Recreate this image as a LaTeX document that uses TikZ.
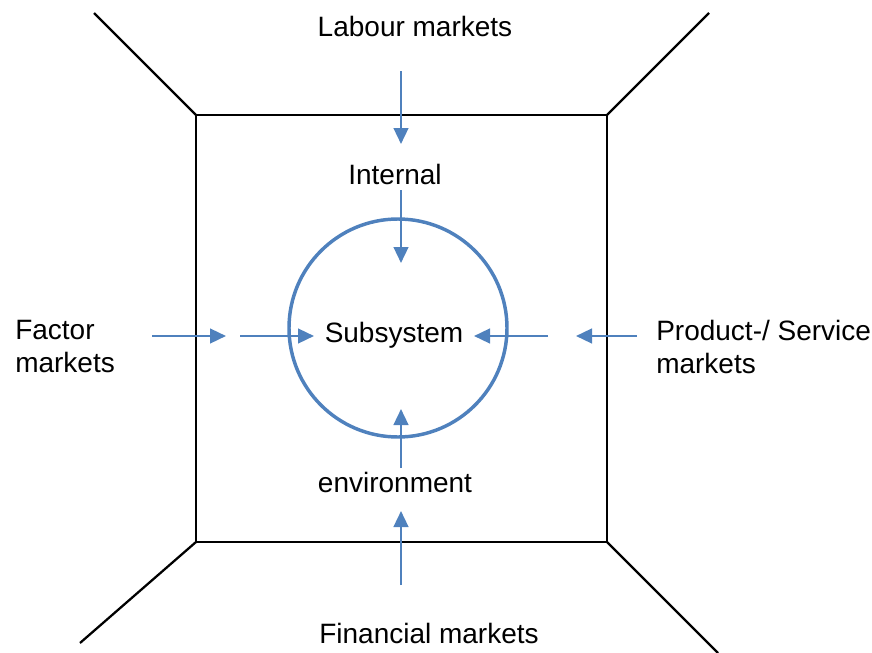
\documentclass[tikz,border=0pt]{standalone}
\usepackage{fontspec}
\setmainfont{Liberation Sans}
\usetikzlibrary{arrows.meta}
\definecolor{flowblue}{RGB}{79,129,189}
\begin{document}
\begin{tikzpicture}[x=0.75pt,y=-0.75pt,
  frame/.style={draw=black,line width=1.7pt},
  flow/.style={draw=flowblue,line width=1.8pt,-{Triangle[length=12pt,width=11pt]}},
  lbl/.style={inner sep=0pt,font=\fontsize{21}{24.75}\selectfont}]
\useasboundingbox (0,0) rectangle (872,653);
% box corners
\coordinate (bl) at (196,542);
\coordinate (br) at (607,542);
\coordinate (tl) at (196,115);
\coordinate (tr) at (607,115);
\coordinate (otl) at (94,13);
\coordinate (otr) at (709,13);
\coordinate (obl) at (80,643);
\coordinate (obr) at (718,653);
\draw[frame] (tl) -- (tr) -- (br) -- (bl) -- cycle;
\draw[frame] (otl) -- (tl);
\draw[frame] (otr) -- (tr);
\draw[frame] (obl) -- (bl);
\draw[frame] (obr) -- (br);
% circle
\node[draw=flowblue,line width=2.6pt,circle,minimum size=218*0.75pt,inner sep=0pt] (circ) at (398,328) {};
% texts
\node[lbl] (labour) at (415,26) {Labour markets};
\node[lbl] (internal) at (395,174) {Internal};
\node[lbl] (subsys) at (394,335) {Subsystem};
\node[lbl] (environ) at (395,482) {environment};
\node[lbl] (financial) at (429,633) {Financial markets};
\node[lbl,anchor=west,align=left] (factor) at (15,347) {Factor\\markets};
\node[lbl,anchor=west,align=left] (product) at (656,347) {Product-/ Service\\markets};
% arrow coordinates
\coordinate (l1s) at (152,336); \coordinate (l1e) at (226,336);
\coordinate (l2s) at (240,336); \coordinate (l2e) at (314,336);
\coordinate (r1s) at (637,336); \coordinate (r1e) at (576,336);
\coordinate (r2s) at (548,336); \coordinate (r2e) at (474,336);
\coordinate (t1s) at (401,71); \coordinate (t1e) at (401,144);
\coordinate (t2s) at (401,190); \coordinate (t2e) at (401,263);
\coordinate (b1s) at (401,585); \coordinate (b1e) at (401,511);
\coordinate (b2s) at (401,468); \coordinate (b2e) at (401,409);
\draw[flow] (l1s) -- (l1e);
\draw[flow] (l2s) -- (l2e);
\draw[flow] (r1s) -- (r1e);
\draw[flow] (r2s) -- (r2e);
\draw[flow] (t1s) -- (t1e);
\draw[flow] (t2s) -- (t2e);
\draw[flow] (b1s) -- (b1e);
\draw[flow] (b2s) -- (b2e);
\end{tikzpicture}
\end{document}
